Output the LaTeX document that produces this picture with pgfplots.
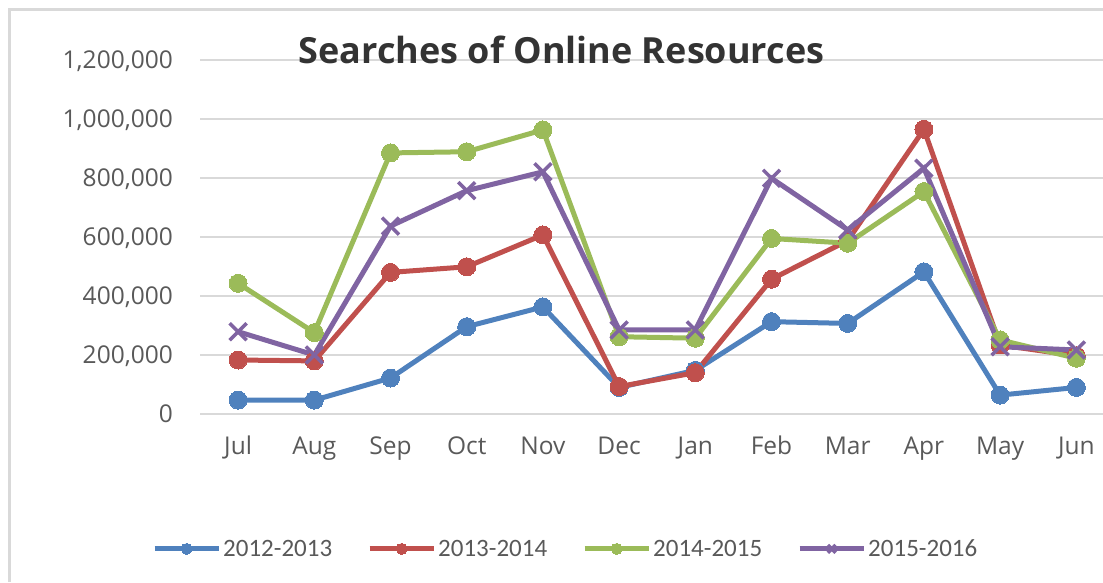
\documentclass[border=0pt]{standalone}
\usepackage{fontspec}
\setmainfont{Open Sans}
\newfontfamily\legfont{Carlito}
\usepackage{pgfplots}
\pgfplotsset{compat=1.18}
\definecolor{sblue}{HTML}{4F81BD}
\definecolor{sred}{HTML}{C0504D}
\definecolor{sgreen}{HTML}{9BBB59}
\definecolor{spurple}{HTML}{8064A2}
\definecolor{gridc}{HTML}{D9D9D9}
\definecolor{framec}{HTML}{D9D9D9}
\definecolor{tickc}{HTML}{595959}
\definecolor{titlec}{HTML}{333333}
\begin{document}
\begin{tikzpicture}[x=1pt,y=1pt]
\useasboundingbox (0,0) rectangle (1103,582);
\draw[color=framec, line width=3pt] (9.5,0) -- (9.5,572) -- (1110,572);
\begin{axis}[
  at={(200pt,168pt)}, anchor=south west,
  scale only axis, width=903pt, height=354pt,
  xmin=-0.5, xmax=11.35, ymin=0, ymax=1200000,
  xtick={0,...,11},
  xticklabels={Jul,Aug,Sep,Oct,Nov,Dec,Jan,Feb,Mar,Apr,May,Jun},
  ytick={0,200000,400000,600000,800000,1000000,1200000},
  scaled y ticks=false,
  /pgf/number format/.cd, fixed, 1000 sep={,}, assume math mode=true, /pgfplots/.cd,
  ymajorgrids, grid style={color=gridc, line width=1.5pt},
  axis line style={draw=none},
  major tick length=0pt,
  clip=false,
  tick label style={font=\fontsize{24.5}{28}\selectfont, text=tickc},
  yticklabel style={anchor=base east, inner sep=0pt, xshift=-27pt, yshift=-8.5pt},
  xticklabel style={anchor=north, inner sep=0pt, text height=18pt, text depth=5pt, yshift=-22pt},
  title={Searches of Online Resources},
  title style={at={(axis description cs:0.4003,0.9718)}, anchor=base, inner sep=0pt,
    font=\bfseries\fontsize{36}{40}\selectfont, text=titlec},
  legend columns=4,
  legend style={draw=none, fill=none, at={(axis description cs:0.405,-0.381)}, anchor=center,
    font=\legfont\fontsize{25}{30}\selectfont, text=tickc,
    nodes={inner xsep=2pt},
    /tikz/every even column/.append style={column sep=33pt},
    inner sep=0pt},
  legend image code/.code={%
    \draw[#1, mark=none] (0pt,0pt) -- (64pt,0pt);
    \draw[#1, mark size=5.5pt] plot coordinates {(32pt,0pt)};},
  every axis plot/.append style={line width=5pt},
]
\addplot[color=sblue, mark=*, mark size=9pt, mark options={solid, line width=0pt, fill=sblue}]
coordinates {(0,47000) (1,47000) (2,122000) (3,296000) (4,363000) (5,90000) (6,148000) (7,313000) (8,307000) (9,482000) (10,64000) (11,90000)};
\addlegendentry{2012-2013}
\addplot[color=sred, mark=*, mark size=9pt, mark options={solid, line width=0pt, fill=sred}]
coordinates {(0,183000) (1,180000) (2,480000) (3,499000) (4,607000) (5,93000) (6,140000) (7,457000) (8,588000) (9,965000) (10,234000) (11,197000)};
\addlegendentry{2013-2014}
\addplot[color=sgreen, mark=*, mark size=9pt, mark options={solid, line width=0pt, fill=sgreen}]
coordinates {(0,443000) (1,276000) (2,885000) (3,889000) (4,963000) (5,262000) (6,257000) (7,595000) (8,579000) (9,754000) (10,251000) (11,189000)};
\addlegendentry{2014-2015}
\addplot[color=spurple, mark=x, mark size=12pt, mark options={solid, line width=3.5pt}]
coordinates {(0,279000) (1,200000) (2,637000) (3,757000) (4,821000) (5,285000) (6,285000) (7,799000) (8,624000) (9,833000) (10,228000) (11,217000)};
\addlegendentry{2015-2016}
\end{axis}
\end{tikzpicture}
\end{document}
